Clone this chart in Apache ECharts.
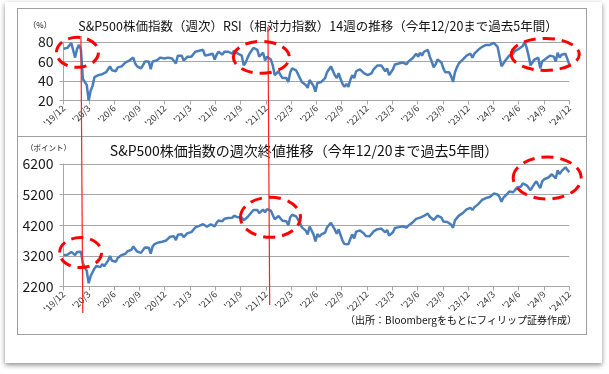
<!DOCTYPE html>
<html>
<head>
<meta charset="utf-8">
<script src="https://cdn.jsdelivr.net/npm/echarts@6/dist/echarts.min.js"></script>
<style>
html,body{margin:0;padding:0;background:#fff;}
#panel{position:absolute;left:5px;top:2px;width:597px;height:361px;background:#fff;box-shadow:0 2px 5px rgba(0,0,0,0.45);}
#frame{position:absolute;left:17px;top:8px;width:568px;height:325px;border:1px solid #a0a0a0;}
#divider{position:absolute;left:17px;top:136px;width:570px;height:1px;background:#a0a0a0;}
#c{position:absolute;left:0;top:0;width:609px;height:374px;}
</style>
</head>
<body>
<div id="panel"></div>
<div id="frame"></div>
<div id="divider"></div>
<div id="c"></div>
<script>
// ---- data ----
const tickLabels = ["'19/12","'20/3","'20/6","'20/9","'20/12","'21/3","'21/6","'21/9","'21/12","'22/3","'22/6","'22/9","'22/12","'23/3","'23/6","'23/9","'23/12","'24/3","'24/6","'24/9","'24/12"];

// 14-week RSI (%), weekly, 2019/12/20 - 2024/12/20
const rsi14w = [
73,74,74,76,79,77,64,73,77,72,
42,39,36,20,30,35,44,46,46,47,
47,47,49,52,55,51,52,50,54,56,
55,57,59,61,61,63,64,58,55,54,
53,56,60,62,60,52,60,62,61,63,
64,62,63,63,64,66,63,65,58,66,
68,66,61,62,65,63,65,67,70,72,
71,71,72,66,65,67,67,68,62,67,
70,70,67,70,68,70,71,68,71,72,
68,67,66,56,59,64,68,71,74,72,
72,65,63,69,61,65,66,62,56,46,
47,50,46,43,45,43,39,49,53,54,
51,47,43,39,38,36,33,41,40,35,
29,38,36,39,38,43,49,51,55,53,
46,43,48,42,37,34,37,34,41,46,
43,50,50,52,53,48,46,46,45,48,
52,51,56,58,56,55,50,53,46,49,
52,57,56,58,57,59,57,57,60,60,
63,63,68,65,69,66,70,71,72,65,
60,54,57,62,60,59,53,49,48,49,
45,39,49,54,58,60,62,63,66,68,
68,64,68,70,72,74,75,75,77,78,
77,77,79,80,75,65,55,58,61,63,
66,68,68,71,72,73,73,76,80,74,
66,56,55,62,64,64,53,60,62,63,
64,66,67,65,60,69,64,67,68,68,
66,57
];

// S&P500 weekly close (points), 2019/12/20 - 2024/12/20
const spxClose = [
3221,3240,3235,3265,3330,3295,3226,3328,3380,3338,
2954,2972,2711,2305,2541,2489,2790,2875,2837,2831,
2930,2864,2955,3044,3194,3041,3098,3009,3130,3185,
3225,3216,3271,3351,3373,3397,3508,3427,3341,3319,
3298,3348,3477,3483,3465,3270,3509,3585,3558,3638,
3699,3663,3709,3703,3756,3824,3768,3841,3714,3887,
3934,3907,3811,3842,3943,3913,3975,4020,4129,4185,
4180,4181,4233,4174,4156,4204,4230,4247,4166,4281,
4352,4370,4327,4412,4395,4437,4468,4442,4509,4535,
4459,4433,4455,4357,4391,4471,4545,4605,4697,4683,
4698,4595,4538,4712,4621,4726,4766,4677,4663,4398,
4432,4501,4419,4349,4385,4329,4204,4463,4543,4546,
4488,4393,4272,4132,4123,4024,3901,4158,4109,3901,
3675,3912,3825,3899,3863,3962,4130,4145,4280,4228,
4058,3924,4067,3873,3693,3586,3640,3583,3753,3901,
3771,3993,3965,4026,4072,3934,3852,3845,3840,3895,
3999,3972,4071,4136,4090,4079,3970,4046,3862,3917,
3971,4109,4105,4138,4133,4169,4136,4124,4192,4205,
4282,4299,4410,4348,4450,4399,4505,4536,4582,4478,
4464,4370,4406,4516,4457,4450,4320,4288,4308,4327,
4224,4117,4358,4415,4514,4559,4595,4604,4719,4755,
4770,4697,4784,4840,4891,4959,5027,5006,5089,5137,
5124,5117,5234,5254,5204,5123,4967,5100,5128,5223,
5303,5305,5278,5347,5431,5465,5460,5567,5615,5505,
5459,5346,5344,5554,5635,5648,5408,5626,5703,5738,
5751,5815,5865,5808,5729,5996,5871,5969,6032,6090,
6051,5931
];

const rsiTicks = [20, 40, 60, 80];
const priceTicks = [2200, 3200, 4200, 5200, 6200];

// annotations (in data units: week index, value)
const eventWeeks = [[9.0, 9.95], [105.5, 106.4]];
const rsiHighlights = [[7.2, 69.4], [102.1, 64.3], [248.6, 67.3]];
const priceHighlights = [[8.8, 3308], [106.8, 4460], [249.6, 5743]];

// ---- chart ----
const FONT = "'Noto Sans CJK JP','Noto Sans',sans-serif";
const weeksSpan = rsi14w.length - 1;
const tickStep = weeksSpan / (tickLabels.length - 1);
const gridColor = '#a6a6a6';

const chart = echarts.init(document.getElementById('c'), null, {renderer: 'canvas'});

function xAxisOf(gi) {
  return {
    gridIndex: gi, type: 'value', min: 0, max: weeksSpan, interval: tickStep,
    axisLine: {show: true, onZero: false, lineStyle: {color: gridColor}},
    axisTick: {show: true, length: 4, lineStyle: {color: gridColor}},
    splitLine: {show: false},
    axisLabel: {rotate: 45, fontSize: 9, color: '#333', margin: 6, fontFamily: FONT,
      formatter: v => tickLabels[Math.round(v / tickStep)] || ''}
  };
}
function yAxisOf(gi, ticks) {
  return {
    gridIndex: gi, type: 'value', min: ticks[0], max: ticks[ticks.length - 1],
    axisLine: {show: true, lineStyle: {color: gridColor}},
    axisTick: {show: true, length: 4, lineStyle: {color: gridColor}, customValues: ticks},
    splitLine: {show: true, lineStyle: {color: gridColor}},
    axisLabel: {fontSize: 14, color: '#1a1a1a', margin: 10, fontFamily: FONT, customValues: ticks,
      formatter: v => String(v)}
  };
}

const option = {
  animation: false,
  backgroundColor: 'transparent',
  grid: [
    {left: 63.5, right: 39.7, top: 42, height: 58.5},
    {left: 63.5, right: 39.7, top: 164, height: 122.5}
  ],
  xAxis: [xAxisOf(0), xAxisOf(1)],
  yAxis: [yAxisOf(0, rsiTicks), yAxisOf(1, priceTicks)],
  series: [
    {type: 'line', xAxisIndex: 0, yAxisIndex: 0, data: rsi14w.map((v, i) => [i, v]),
     showSymbol: false, symbol: 'none', silent: true, lineStyle: {color: '#4a7ebb', width: 2.5}},
    {type: 'line', xAxisIndex: 1, yAxisIndex: 1, data: spxClose.map((v, i) => [i, v]),
     showSymbol: false, symbol: 'none', silent: true, lineStyle: {color: '#4a7ebb', width: 2.5}}
  ]
};
chart.setOption(option);

const graphics = [];
function txt(x, y, text, size, align) {
  graphics.push({type: 'text', x: x, y: y, z: 10,
    style: {text: text, fontSize: size, fontFamily: FONT, fill: '#111', align: align || 'center', verticalAlign: 'middle'}});
}
txt(318, 26, 'S&P500株価指数（週次）RSI（相対力指数）14週の推移（今年12/20まで過去5年間）', 12.5);
txt(304, 151, 'S&P500株価指数の週次終値推移（今年12/20まで過去5年間）', 14);
txt(40, 25, '（%）', 8);
txt(48.5, 148, '（ポイント）', 7.5);
txt(577, 320, '（出所：Bloombergをもとにフィリップ証券作成）', 10, 'right');

const lineY = [[36, 313], [27, 305]];
eventWeeks.forEach((w, k) => {
  const a = chart.convertToPixel({gridIndex: 0}, [w[0], 50]);
  const b = chart.convertToPixel({gridIndex: 1}, [w[1], 4000]);
  graphics.push({type: 'line', z: 50, shape: {x1: a[0], y1: lineY[k][0], x2: b[0], y2: lineY[k][1]},
    style: {stroke: '#ff2020', lineWidth: 1.2}});
});
const rsiR = [[21, 15], [28, 16], [34, 16]];
const priceR = [[21, 15], [30, 20], [34, 21]];
function ell(gi, pt, r) {
  const p = chart.convertToPixel({gridIndex: gi}, pt);
  graphics.push({type: 'ellipse', z: 60, shape: {cx: p[0], cy: p[1], rx: r[0], ry: r[1]},
    style: {fill: 'none', stroke: '#ff0000', lineWidth: 3, lineDash: [12, 7]}});
}
rsiHighlights.forEach((pt, k) => ell(0, pt, rsiR[k]));
priceHighlights.forEach((pt, k) => ell(1, pt, priceR[k]));

chart.setOption({graphic: graphics});
</script>
</body>
</html>
